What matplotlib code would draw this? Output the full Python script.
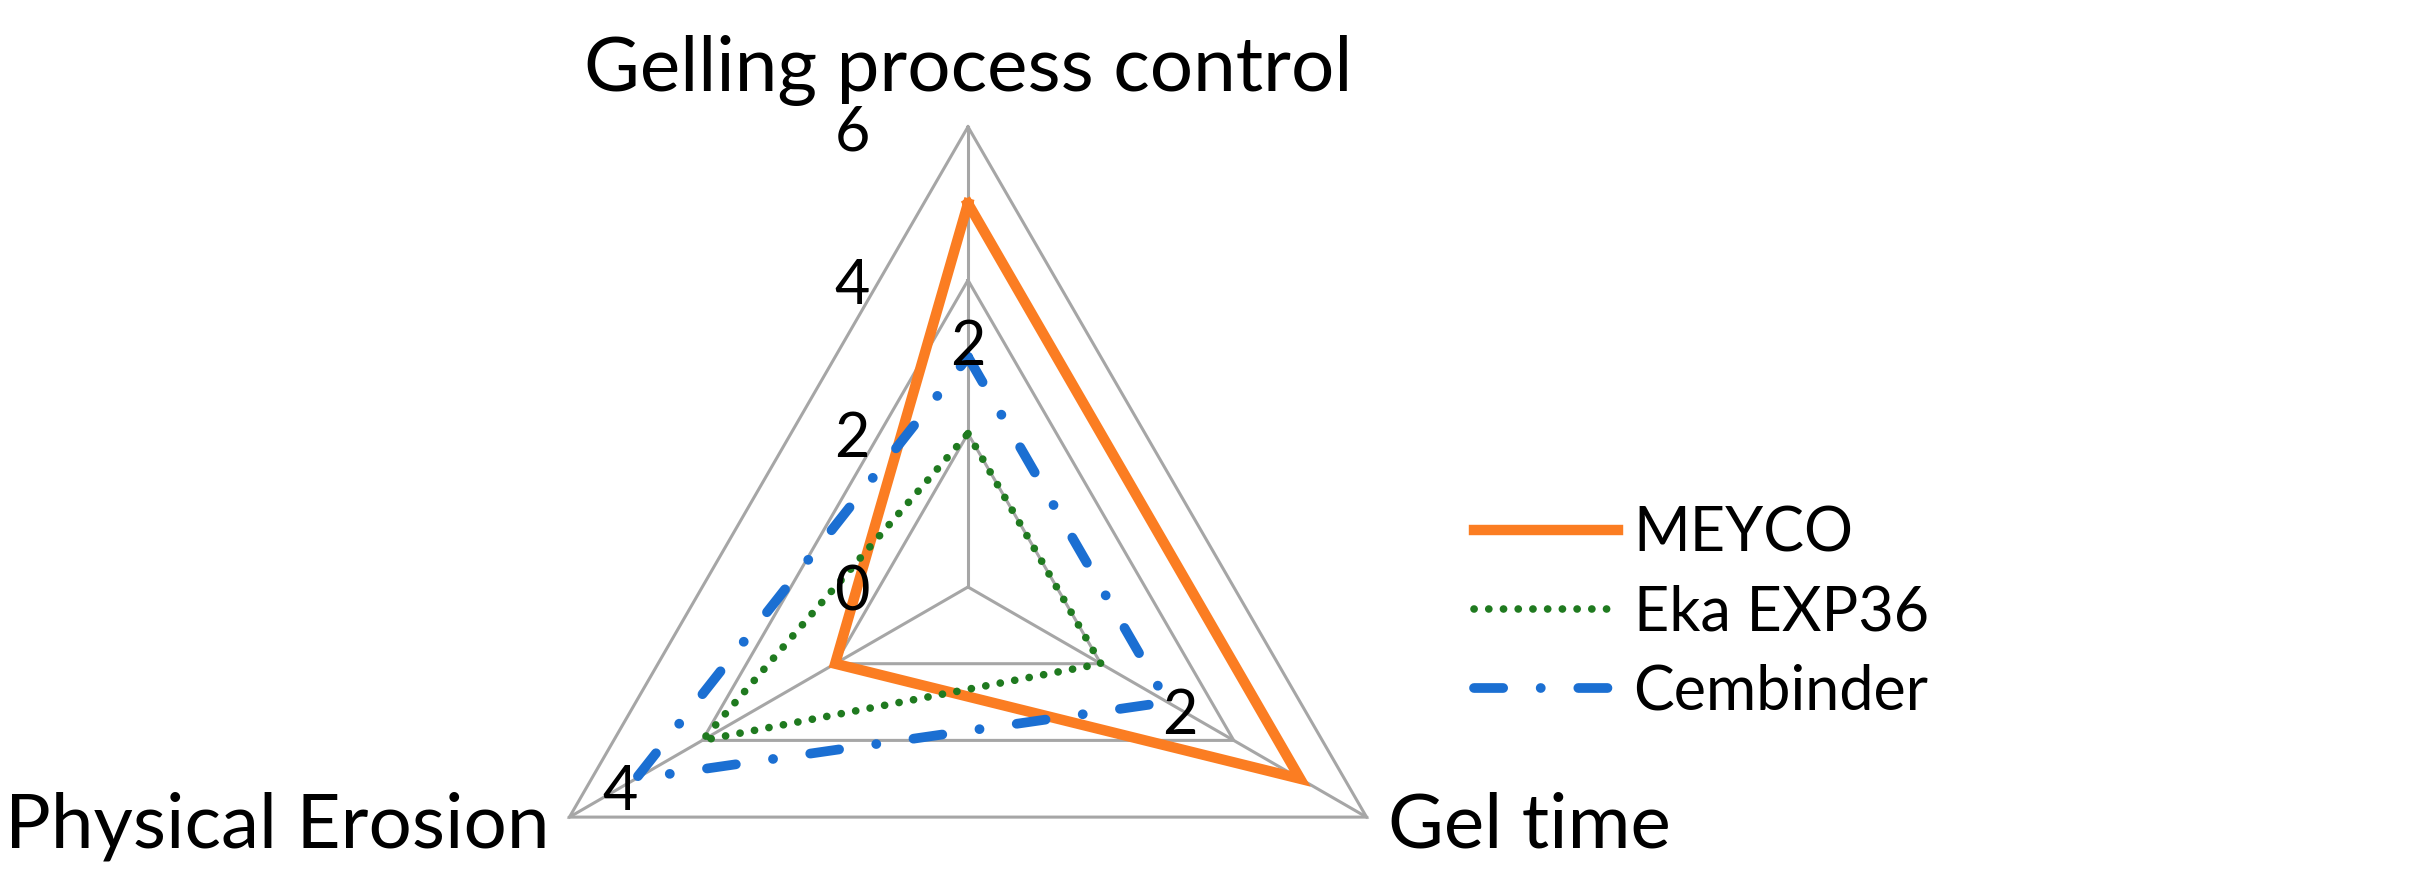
import numpy as np
import matplotlib
matplotlib.use("Agg")
import matplotlib.pyplot as plt

plt.rcParams['font.family'] = ['Lato', 'DejaVu Sans']
plt.rcParams['lines.scale_dashes'] = False

# data
categories = ['Gelling process control', 'Gel time', 'Physical Erosion']
series_names = ['MEYCO', 'Eka EXP36', 'Cembinder']
meyco = [5, 5, 2]
eka = [2, 2, 4]
cembinder = [3, 3, 5]
grid_levels = [0, 2, 4, 6]
rmax = 6

colors = ['#FB7D22', '#1F7A1F', '#1B6FD2']

# axis directions: top, lower right, lower left
angles = np.deg2rad([90, -30, 210])


def to_xy(vals):
    vals = np.asarray(vals, dtype=float)
    x = vals * np.cos(angles)
    y = vals * np.sin(angles)
    # close the polygon
    return np.append(x, x[0]), np.append(y, y[0])


W, H = 2412, 887
fig = plt.figure(figsize=(W / 100, H / 100), dpi=100)
ax = fig.add_axes([0, 0, 1, 1])

# pixel layout: centre of the radar at (968, 588), 76.7 px per unit
px = 76.7
cx, cy = 968, 588
ax.set_xlim(-cx / px, (W - cx) / px)
ax.set_ylim(-(H - cy) / px, cy / px)
ax.axis('off')

gridc = '#A6A6A6'
for lv in grid_levels[1:]:
    gx, gy = to_xy([lv] * 3)
    ax.plot(gx, gy, color=gridc, lw=2.2, zorder=1, solid_joinstyle='miter')
for a in angles:
    ax.plot([0, rmax * np.cos(a)], [0, rmax * np.sin(a)], color=gridc, lw=2.2, zorder=1)

# series
x, y = to_xy(meyco)
ax.plot(x, y, color=colors[0], lw=7.5, solid_joinstyle='miter', zorder=3, label=series_names[0])
x, y = to_xy(eka)
ax.plot(x, y, color=colors[1], lw=5.5, linestyle=(0, (0.1, 10.5)), dash_capstyle='round',
        zorder=3, label=series_names[1])
x, y = to_xy(cembinder)
ax.plot(x, y, color=colors[2], lw=7, linestyle=(0, (21, 27, 0.1, 27)), dash_capstyle='round',
        zorder=4, label=series_names[2])

# radial tick labels
for lv in grid_levels:
    ax.text(-1.28, lv - 0.07, str(lv), ha='right', va='center', fontsize=44, zorder=5)

# stray labels that sit on the picture
ax.text(0, 3.14, '2', ha='center', va='center', fontsize=44, zorder=5)
ax.text(2.76, -1.68, '2', ha='center', va='center', fontsize=44, zorder=5)
ax.text(-4.54, -2.67, '4', ha='center', va='center', fontsize=44, zorder=5)

# category labels
ax.text(0, 6.48, categories[0], ha='center', va='baseline', fontsize=55)
ax.text(5.48, -3.10, categories[1], ha='left', va='center', fontsize=55)
ax.text(-5.46, -3.10, categories[2], ha='right', va='center', fontsize=55)

leg = ax.legend(loc='upper left', bbox_to_anchor=(1474 / W, 1 - 506 / H),
                frameon=False, fontsize=44, handlelength=2.35, handletextpad=0.26,
                labelspacing=0.36, borderpad=0, borderaxespad=0)

fig.savefig('out.png', dpi=100)
